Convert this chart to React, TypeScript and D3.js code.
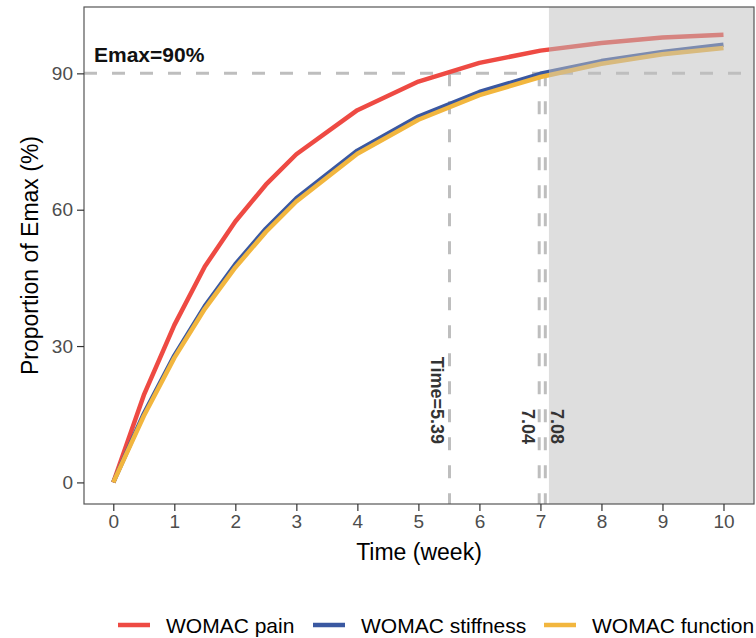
import { useEffect, useRef } from "react";
import * as d3 from "d3";

const width = 756;
const height = 638;
const margin = { top: 7, right: 2, bottom: 134, left: 84 };

// weeks where the curves were read
const tWeeks = [0, 0.5, 1, 1.5, 2, 2.5, 3, 4, 5, 6, 7, 8, 9, 10];
const painValues = [0, 19.2, 34.6, 47.5, 57.4, 65.5, 72.2, 81.9, 88.2, 92.3, 95.0, 96.7, 97.9, 98.5];
const stiffnessValues = [0, 15.1, 27.9, 38.8, 48.0, 55.8, 62.5, 73.0, 80.5, 85.9, 89.9, 92.7, 94.7, 96.3];
const functionValues = [0, 14.6, 27.4, 38.2, 47.3, 55.1, 61.8, 72.3, 79.8, 85.2, 89.2, 92.1, 94.2, 95.6];

const seriesNames = ["WOMAC pain", "WOMAC stiffness", "WOMAC function"];
const seriesColors = ["#EE4A43", "#3A58A1", "#F2B63E"];

const xTicks = [0, 1, 2, 3, 4, 5, 6, 7, 8, 9, 10];
const yTicks = [0, 30, 60, 90];

const emaxLevel = 90;
const crossTimes = [5.51, 6.98, 7.08];
const crossLabels = ["Time=5.39", "7.04", "7.08"];
const crossLabelX = [5.3, 6.8, 7.27];
const shadeStart = 7.14;

const App = () => {
  const ref = useRef<SVGSVGElement>(null);

  useEffect(() => {
    const svg = d3.select(ref.current);
    svg.selectAll("*").remove();

    const x = d3.scaleLinear().domain([-0.48, 10.5]).range([margin.left, width - margin.right]);
    const y = d3.scaleLinear().domain([-4.75, 104.6]).range([height - margin.bottom, margin.top]);
    const [x0, x1] = x.range();
    const [y0, y1] = y.range();

    const g = svg.append("g");
    const dash = "13 15";

    // Emax reference line
    g.append("line")
      .attr("x1", x0).attr("x2", x1)
      .attr("y1", y(emaxLevel)).attr("y2", y(emaxLevel))
      .attr("stroke", "#BEBEBE").attr("stroke-width", 3)
      .attr("stroke-dasharray", dash);

    g.selectAll("line.vt")
      .data(crossTimes)
      .join("line")
      .attr("class", "vt")
      .attr("x1", d => x(d)).attr("x2", d => x(d))
      .attr("y1", y(emaxLevel)).attr("y2", y0)
      .attr("stroke", "#BEBEBE").attr("stroke-width", 3)
      .attr("stroke-dasharray", dash);

    const series = [painValues, stiffnessValues, functionValues];
    const line = d3.line<number>()
      .x((_, i) => x(tWeeks[i]))
      .y(d => y(d));

    g.selectAll("path.curve")
      .data(series)
      .join("path")
      .attr("class", "curve")
      .attr("d", d => line(d))
      .attr("fill", "none")
      .attr("stroke", (_, i) => seriesColors[i])
      .attr("stroke-width", 4.5)
      .attr("stroke-linejoin", "round");

    // shaded area after Emax reached
    g.append("rect")
      .attr("x", x(shadeStart)).attr("y", y1)
      .attr("width", x1 - x(shadeStart)).attr("height", y0 - y1)
      .attr("fill", "#BEBEBE").attr("fill-opacity", 0.5);

    g.append("text")
      .attr("x", 94).attr("y", 62)
      .attr("font-size", 21).attr("font-weight", "bold")
      .attr("fill", "#111")
      .text("Emax=90%");

    g.selectAll("text.cross")
      .data(crossLabels)
      .join("text")
      .attr("class", "cross")
      .attr("transform", (_, i) => `translate(${x(crossLabelX[i])},444) rotate(90)`)
      .attr("text-anchor", "end")
      .attr("dominant-baseline", "central")
      .attr("font-size", 18).attr("font-weight", "bold")
      .attr("fill", "#333")
      .text(d => d);

    // panel border
    g.append("rect")
      .attr("x", x0).attr("y", y1)
      .attr("width", x1 - x0).attr("height", y0 - y1)
      .attr("fill", "none").attr("stroke", "#555").attr("stroke-width", 1.2);

    const xAxis = g.append("g")
      .attr("transform", `translate(0,${y0})`)
      .call(d3.axisBottom(x).tickValues(xTicks).tickSize(7).tickPadding(4));
    const yAxis = g.append("g")
      .attr("transform", `translate(${x0},0)`)
      .call(d3.axisLeft(y).tickValues(yTicks).tickSize(7).tickPadding(4));
    [xAxis, yAxis].forEach(a => {
      a.select(".domain").remove();
      a.selectAll(".tick line").attr("stroke", "#333").attr("stroke-width", 1.2);
      a.selectAll(".tick text")
        .attr("font-size", 19).attr("fill", "#4D4D4D")
        .attr("font-family", "'Liberation Sans', Arial, sans-serif");
    });

    g.append("text")
      .attr("x", (x0 + x1) / 2).attr("y", 560)
      .attr("text-anchor", "middle")
      .attr("font-size", 23).attr("fill", "#000")
      .text("Time (week)");

    g.append("text")
      .attr("transform", `translate(38,${(y0 + y1) / 2}) rotate(-90)`)
      .attr("text-anchor", "middle")
      .attr("font-size", 23).attr("fill", "#000")
      .text("Proportion of Emax (%)");

    // legend
    const legendX = [118, 313, 544];
    const leg = g.selectAll("g.leg")
      .data(seriesNames)
      .join("g")
      .attr("class", "leg")
      .attr("transform", (_, i) => `translate(${legendX[i]},625)`);
    leg.append("line")
      .attr("x1", 0).attr("x2", 32)
      .attr("stroke", (_, i) => seriesColors[i]).attr("stroke-width", 4.5);
    leg.append("text")
      .attr("x", 48).attr("y", 0)
      .attr("dominant-baseline", "central")
      .attr("font-size", 21).attr("fill", "#000")
      .text(d => d);
  }, []);

  return (
    <svg
      ref={ref}
      width={width}
      height={height}
      style={{ position: "absolute", left: 0, top: 0, fontFamily: "'Liberation Sans', Arial, sans-serif", background: "#fff" }}
    />
  );
};

export default App;
